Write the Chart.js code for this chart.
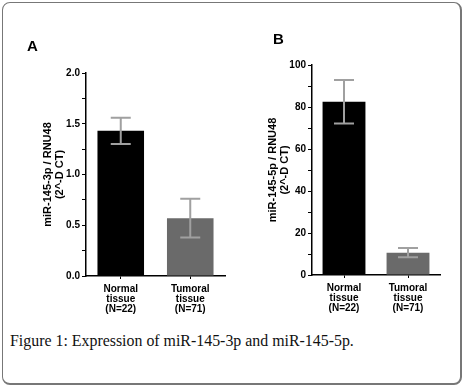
<!DOCTYPE html>
<html>
<head>
<meta charset="utf-8">
<script src="https://cdn.jsdelivr.net/npm/chart.js@4"></script>
<style>
  body { margin: 0; background: #fff; }
  #frame {
    position: absolute; left: 2px; top: 2px; width: 460px; height: 383px;
    border: 1px solid #777; border-right-width: 2px; border-bottom-width: 2px;
    border-radius: 8px; box-sizing: border-box;
  }
  .panel { position: absolute; top: 0; width: 233px; height: 320px; }
  .letter { position: absolute; font: bold 15px Arial, "Liberation Sans", sans-serif; color: #000; }
  #caption {
    position: absolute; left: 10px; top: 332px;
    font: 15.9px "Liberation Serif", "DejaVu Serif", serif; color: #111;
  }
</style>
</head>
<body>
<div id="frame"></div>
<div class="panel" style="left:0"><canvas id="chartA" width="233" height="320"></canvas></div>
<div class="panel" style="left:233px"><canvas id="chartB" width="233" height="320"></canvas></div>
<div class="letter" style="left:27px;top:37px">A</div>
<div class="letter" style="left:273px;top:30px">B</div>
<div id="caption">Figure 1: Expression of miR-145-3p and miR-145-5p.</div>
<script>
const categories = [['Normal', 'tissue', '(N=22)'], ['Tumoral', 'tissue', '(N=71)']]
const barColors = ['#000000', '#6a6a6a']

// panel A: miR-145-3p
const meansA = [1.43, 0.57]
const errA = [0.13, 0.19]
// panel B: miR-145-5p
const meansB = [82.5, 10.6]
const errB = [10.4, 2.2]

const font = { family: 'Arial, "Liberation Sans", sans-serif', weight: 'bold' }

// draws the mean +/- error whiskers on top of the bars
const errorBars = {
  id: 'errorBars',
  afterDatasetsDraw(chart, args, opts) {
    const ctx = chart.ctx
    const y = chart.scales.y
    const meta = chart.getDatasetMeta(0)
    ctx.save()
    ctx.strokeStyle = '#a0a0a0'
    ctx.lineWidth = 2
    meta.data.forEach((bar, i) => {
      const m = chart.data.datasets[0].data[i]
      const e = opts.errors[i]
      const top = y.getPixelForValue(m + e)
      const bot = y.getPixelForValue(m - e)
      ctx.beginPath()
      ctx.moveTo(bar.x, top); ctx.lineTo(bar.x, bot)
      ctx.moveTo(bar.x - 10, top); ctx.lineTo(bar.x + 10, top)
      ctx.moveTo(bar.x - 10, bot); ctx.lineTo(bar.x + 10, bot)
      ctx.stroke()
    })
    ctx.restore()
  }
}

function makeChart(id, means, errors, cfg) {
  return new Chart(document.getElementById(id), {
    type: 'bar',
    data: {
      labels: categories,
      datasets: [{
        data: means,
        backgroundColor: barColors,
        borderWidth: 0,
        barPercentage: cfg.barPct,
        categoryPercentage: 1
      }]
    },
    options: {
      responsive: false,
      animation: false,
      layout: { padding: cfg.padding },
      plugins: {
        legend: { display: false },
        tooltip: { enabled: false },
        errorBars: { errors: errors }
      },
      scales: {
        x: {
          grid: { display: true, drawOnChartArea: false, offset: false, tickLength: 3, color: '#000' },
          border: { color: '#000', width: 1.5 },
          ticks: { color: '#000', font: { ...font, size: 10, lineHeight: 1.0 }, padding: 5, maxRotation: 0 },
          afterFit: s => { s.height = cfg.xHeight }
        },
        y: {
          min: 0,
          max: cfg.max,
          grid: { display: true, drawOnChartArea: false, tickLength: 4, color: '#000' },
          border: { color: '#000', width: 1.5 },
          ticks: {
            stepSize: cfg.minor,
            color: '#000',
            font: { ...font, size: 10 },
            padding: 2,
            callback: v => (Math.abs(v / cfg.major - Math.round(v / cfg.major)) < 1e-6 ? cfg.fmt(v) : '')
          },
          title: {
            display: true,
            text: cfg.title,
            color: '#000',
            font: { ...font, size: 11, lineHeight: 1.1 },
            padding: { top: cfg.titlePad, bottom: 0 }
          },
          afterFit: s => { s.width = cfg.yWidth }
        }
      }
    },
    plugins: [errorBars]
  })
}

makeChart('chartA', meansA, errA, {
  max: 2.0, major: 0.5, minor: 0.25, fmt: v => v.toFixed(1),
  title: ['miR-145-3p / RNU48', '(2^-D CT)'],
  padding: { left: 30, right: 8, top: 73, bottom: 0 },
  yWidth: 56, xHeight: 44, titlePad: 12, barPct: 0.67
})

makeChart('chartB', meansB, errB, {
  max: 100, major: 20, minor: 10, fmt: v => String(v),
  title: ['miR-145-5p / RNU48', '(2^-D CT)'],
  padding: { left: 20, right: 26, top: 65, bottom: 0 },
  yWidth: 59, xHeight: 45, titlePad: 14, barPct: 0.67
})
</script>
</body>
</html>
